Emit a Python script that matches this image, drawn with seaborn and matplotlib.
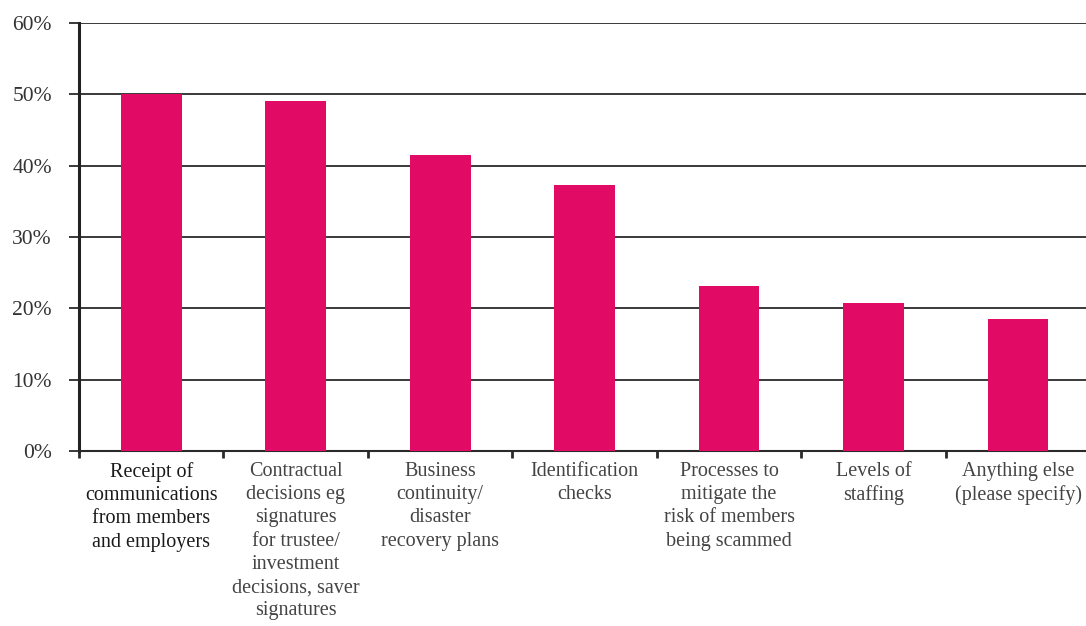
import pandas as pd
import matplotlib.pyplot as plt
import matplotlib.ticker as mticker
import seaborn as sns

# Data
categories = [
    "Receipt of\ncommunications\nfrom members\nand employers",
    "Contractual\ndecisions eg\nsignatures\nfor trustee/\ninvestment\ndecisions, saver\nsignatures",
    "Business\ncontinuity/\ndisaster\nrecovery plans",
    "Identification\nchecks",
    "Processes to\nmitigate the\nrisk of members\nbeing scammed",
    "Levels of\nstaffing",
    "Anything else\n(please specify)",
]
values = [0.500, 0.491, 0.415, 0.373, 0.231, 0.207, 0.185]
y_ticks = [0, 0.1, 0.2, 0.3, 0.4, 0.5, 0.6]

df = pd.DataFrame({"Category": categories, "Share": values})

sns.set_style("white")
plt.rcParams["font.family"] = ["Liberation Serif", "DejaVu Serif"]

fig = plt.figure(figsize=(10.86, 6.26), dpi=100)
ax = fig.add_axes([0.0727, 0.2796, 0.9273, 0.6837])

sns.barplot(data=df, x="Category", y="Share", color="#E10A64",
            width=0.42, saturation=1, linewidth=0, ax=ax, zorder=3)

ax.set_ylim(0, 0.6)
ax.set_xlim(-0.5, 6.47)
ax.set_yticks(y_ticks)
ax.yaxis.set_major_formatter(mticker.FuncFormatter(lambda v, p: f"{v*100:.0f}%"))
ax.yaxis.grid(True, color="#2a2a2a", linewidth=1.3, zorder=0)
ax.set_axisbelow(True)

for s in ["top", "right"]:
    ax.spines[s].set_visible(False)
ax.spines["left"].set_color("#222222")
ax.spines["left"].set_linewidth(2.2)
ax.spines["bottom"].set_color("#2a2a2a")
ax.spines["bottom"].set_linewidth(1.5)

ax.tick_params(axis="y", left=True, length=7.5, width=1.3, color="#2a2a2a",
               pad=12, labelsize=15.5, labelcolor="#333333")
ax.tick_params(axis="x", which="major", bottom=True, length=0, pad=8,
               labelsize=14.5, labelcolor="#444444")
ax.set_xticks([i - 0.5 for i in range(7)], minor=True)
ax.tick_params(axis="x", which="minor", bottom=True, length=5, width=2,
               color="#2a2a2a")
for i, lbl in enumerate(ax.get_xticklabels()):
    lbl.set_linespacing(1.3)
    lbl.set_verticalalignment("top")
    if i == 0:
        lbl.set_color("#1a1a1a")

ax.set_xlabel("")
ax.set_ylabel("")

fig.savefig("out.png", dpi=100)
